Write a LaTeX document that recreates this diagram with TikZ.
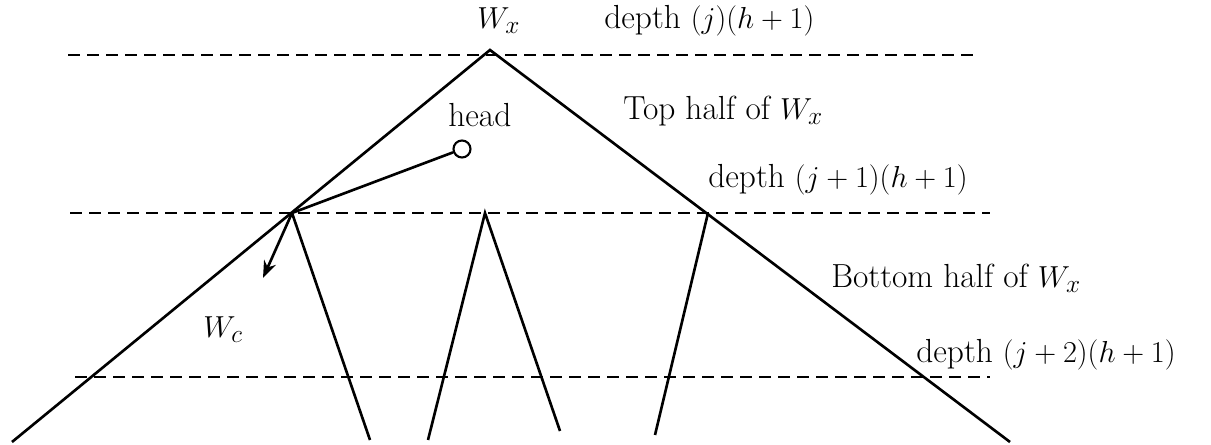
\documentclass[tikz,border=0pt]{standalone}
\usepackage{amsmath,amssymb}
\usetikzlibrary{arrows.meta,calc}

\begin{document}
\begin{tikzpicture}[>=Stealth,line width=1.5pt,
    every node/.style={font=\fontsize{19}{22}\selectfont,anchor=base west,inner sep=0pt},
    level/.style={dash pattern=on 0.24cm off 0.14cm}]
  \useasboundingbox (0,0) rectangle (24.22,8.9);
  % points of the tree
  \coordinate (apex) at (9.8,7.9);
  \coordinate (wc) at (5.84,4.64);
  \coordinate (wm) at (9.7,4.64);
  \coordinate (wr) at (14.16,4.64);
  \coordinate (lend) at (0.24,0.06);
  \coordinate (rend) at (20.2,0.06);
  \coordinate (wcend) at (7.4,0.1);
  \coordinate (wmleft) at (8.56,0.1);
  \coordinate (wmright) at (11.2,0.28);
  \coordinate (wrend) at (13.1,0.2);
  \coordinate (tip) at (5.26,3.34);
  % depth levels
  \draw[level] (1.36,7.8) coordinate (l0a) -- (19.5,7.8) coordinate (l0b);
  \draw[level] (1.4,4.64) coordinate (l1a) -- (19.8,4.64) coordinate (l1b);
  \draw[level] (1.5,1.36) coordinate (l2a) -- (19.8,1.36) coordinate (l2b);
  % big tree W_x
  \draw (lend) -- (apex) -- (rend);
  % subtrees
  \draw (wc) -- (wcend);
  \draw (wmleft) -- (wm) -- (wmright);
  \draw (wr) -- (wrend);
  % head pointer
  \node[draw,circle,anchor=center,minimum size=0.34cm,line width=1.2pt] (head) at (9.24,5.92) {};
  \draw (head) -- (wc);
  \draw[->] (wc) -- (tip);
  % labels
  \node (wx) at (9.52,8.32) {$W_x$};
  \node (d0) at (12.06,8.32) {depth $(j)(h+1)$};
  \node (headlbl) at (8.94,6.36) {head};
  \node (top) at (12.44,6.5) {Top half of $W_x$};
  \node (d1) at (14.14,5.14) {depth $(j+1)(h+1)$};
  \node (bot) at (16.6,3.14) {Bottom half of $W_x$};
  \node (wclbl) at (4.04,2.14) {$W_c$};
  \node (d2) at (18.3,1.64) {depth $(j+2)(h+1)$};
\end{tikzpicture}
\end{document}
